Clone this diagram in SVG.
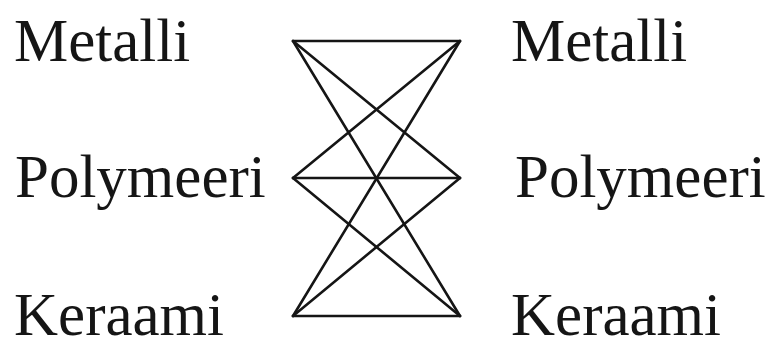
<svg xmlns="http://www.w3.org/2000/svg" width="773" height="340" viewBox="0 0 773 340">
<style>
.t{font-family:"Liberation Serif","Times New Roman",serif;font-size:61px;fill:#151515}
.c line{stroke:#151515;stroke-width:2.6;stroke-linecap:round}
</style>
<rect width="773" height="340" fill="#fff"/>
<g id="left-metalli"><text class="t" x="14" y="61">Metalli</text></g>
<g id="left-polymeeri"><text class="t" x="15" y="197">Polymeeri</text></g>
<g id="left-keraami"><text class="t" x="14" y="335">Keraami</text></g>
<g id="right-metalli"><text class="t" x="511" y="61">Metalli</text></g>
<g id="right-polymeeri"><text class="t" x="515" y="197">Polymeeri</text></g>
<g id="right-keraami"><text class="t" x="511" y="335">Keraami</text></g>
<g id="connectors" class="c">
<line x1="293" y1="41" x2="460" y2="41"/>
<line x1="293" y1="41" x2="460" y2="178"/>
<line x1="293" y1="41" x2="460" y2="316"/>
<line x1="293" y1="178" x2="460" y2="41"/>
<line x1="293" y1="178" x2="460" y2="178"/>
<line x1="293" y1="178" x2="460" y2="316"/>
<line x1="293" y1="316" x2="460" y2="41"/>
<line x1="293" y1="316" x2="460" y2="178"/>
<line x1="293" y1="316" x2="460" y2="316"/>
</g>
</svg>
